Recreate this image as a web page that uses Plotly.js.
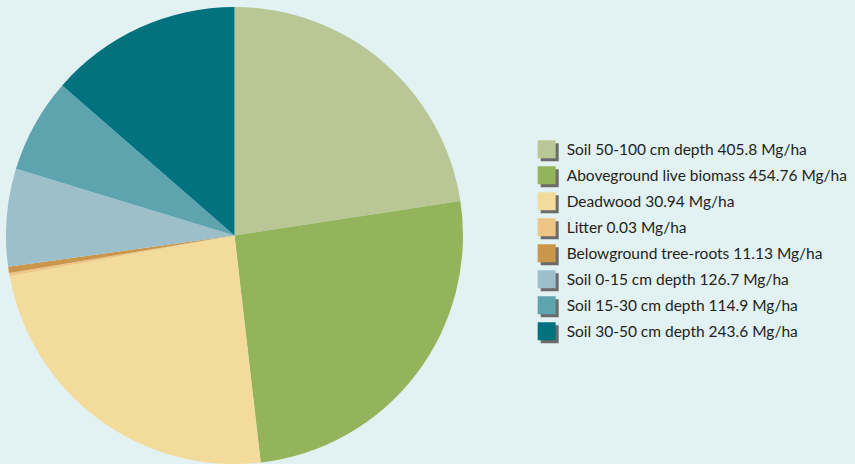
<!DOCTYPE html>
<html>
<head>
<meta charset="utf-8">
<script src="https://cdn.plot.ly/plotly-3.0.1.min.js"></script>
<style>
html,body{margin:0;padding:0;background:#e2f1f2;}
#chart{width:855px;height:464px;}
</style>
</head>
<body>
<div id="chart"></div>
<script>
// Legend labels as printed
const categories = [
  "Soil 50-100 cm depth 405.8 Mg/ha",
  "Aboveground live biomass 454.76 Mg/ha",
  "Deadwood 30.94 Mg/ha",
  "Litter 0.03 Mg/ha",
  "Belowground tree-roots 11.13 Mg/ha",
  "Soil 0-15 cm depth 126.7 Mg/ha",
  "Soil 15-30 cm depth 114.9 Mg/ha",
  "Soil 30-50 cm depth 243.6 Mg/ha"
];
// Slice sizes as drawn in the picture (percent of circle)
const sliceShares = [22.6, 25.6, 24.0, 0.22, 0.44, 6.9, 6.7, 13.6];
const colors = ["#b8c795", "#93b45a", "#f3dc9b", "#eec585", "#c9964a", "#9dbfca", "#5ea4af", "#03727f"];

const trace = {
  type: "pie",
  labels: categories,
  values: sliceShares,
  sort: false,
  direction: "clockwise",
  rotation: 0,
  textinfo: "none",
  hoverinfo: "label",
  marker: {colors: colors, line: {width: 0}},
  domain: {x: [5/855, 464/855], y: [0, 1]}
};

const layout = {
  width: 855,
  height: 464,
  margin: {l: 0, r: 0, t: 7, b: 0},
  paper_bgcolor: "#e2f1f2",
  plot_bgcolor: "#e2f1f2",
  showlegend: true,
  legend: {
    x: 0.616, y: 0.725, xanchor: "left", yanchor: "top",
    bgcolor: "rgba(0,0,0,0)",
    font: {family: "Lato, 'Open Sans', sans-serif", size: 15.5, color: "#231f20"},
    itemclick: false, itemdoubleclick: false
  }
};

Plotly.newPlot("chart", [trace], layout, {staticPlot: true, displayModeBar: false}).then(function(gd){
  // remove legend clipping so the wider row spacing is not cut off
  gd.querySelectorAll(".legend [clip-path], .legend[clip-path]").forEach(function(el){
    el.removeAttribute("clip-path");
  });
  // spread legend rows to the original's spacing
  const rows = gd.querySelectorAll(".legend .traces");
  let y0 = null;
  rows.forEach(function(r, i){
    const t = r.getAttribute("transform") || "";
    const m = t.match(/translate\(\s*([-\d.]+)[ ,]+([-\d.]+)\s*\)/);
    if (!m) return;
    if (y0 === null) y0 = parseFloat(m[2]);
    r.setAttribute("transform", "translate(" + m[1] + "," + (y0 + 26 * i) + ")");
  });
  // enlarge legend swatches and give them the offset shadow seen in the original
  const pts = gd.querySelectorAll(".legend .legendpoints");
  pts.forEach(function(g){
    const p = g.querySelector("path");
    if (!p) return;
    p.setAttribute("d", "M-9,-9H9V9H-9Z");
    p.style.strokeWidth = "0";
    const sh = p.cloneNode(false);
    sh.setAttribute("d", "M-6,-6H12V12H-6Z");
    sh.style.fill = "#6b6b6b";
    sh.style.fillOpacity = "1";
    p.parentNode.insertBefore(sh, p);
  });
});
</script>
</body>
</html>
